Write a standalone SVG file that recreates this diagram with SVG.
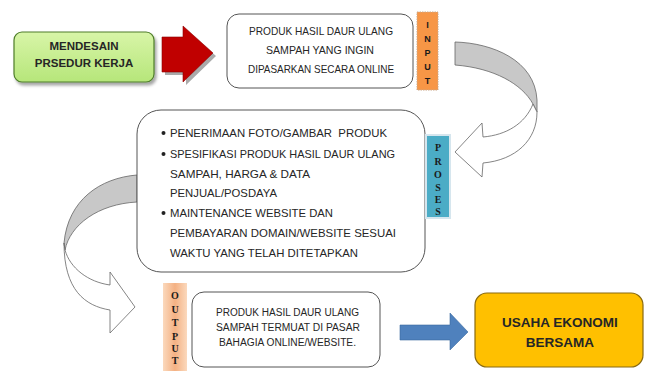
<svg xmlns="http://www.w3.org/2000/svg" width="649" height="371" viewBox="0 0 649 371">
<defs>
<style>
.t{font-family:"Liberation Sans",Arial,sans-serif;fill:#262626;}
.box{fill:#fff;stroke:#555;stroke-width:1;}
.lbl{font-family:"Liberation Serif","Times New Roman",serif;font-weight:bold;font-size:10px;fill:#1a1a1a;text-anchor:middle;}
.lbs{font-family:"Liberation Sans",Arial,sans-serif;font-weight:bold;font-size:9px;fill:#1a1a1a;text-anchor:middle;}
.curve{stroke:#666;stroke-width:0.8;}
</style>
<linearGradient id="gGreen" x1="0" y1="0" x2="0" y2="1">
<stop offset="0" stop-color="#d8f5a8"/><stop offset="1" stop-color="#b6e67a"/>
</linearGradient>
<linearGradient id="gPeach" x1="0" y1="0" x2="1" y2="0">
<stop offset="0" stop-color="#fbd9bd"/><stop offset="0.5" stop-color="#f4b183"/><stop offset="1" stop-color="#fbd9bd"/>
</linearGradient>
<filter id="sh" x="-10%" y="-10%" width="130%" height="140%">
<feDropShadow dx="2" dy="3" stdDeviation="1.5" flood-color="#000" flood-opacity="0.35"/>
</filter>
</defs>

<g id="connectors">
<g id="arrow-red">
<path d="M165,40 L186,40 L186,30 L216,56 L186,85 L186,75 L165,75 Z" fill="#aaa"/>
<path d="M162,37 L183,37 L183,26 L213,53 L183,82 L183,72 L162,72 Z" fill="#c00000" stroke="#8b0000" stroke-width="0.6"/>
</g>
<g id="arrow-curve-right">
<path class="curve" d="M455,42 C492,43 535,60 537,100 L537,112 L533,104 C522,84 494,68 455,65 Z" fill="#c8c8c8"/>
<path class="curve" d="M533,104 C525,124 506,135 483,137 L482,123 L455,152 L482,177 L483,163 C516,160 537,140 537,112 Z" fill="#fff"/>
</g>
<g id="arrow-curve-left">
<path class="curve" d="M137,175 C100,178 68,200 64,243 L65,250 C70,225 98,204 137,202 Z" fill="#c8c8c8"/>
<path class="curve" d="M65,250 C70,268 88,282 110,285 L110,272 L135,307 L110,333 L110,310 C85,306 64,290 64,243 Z" fill="#fff"/>
</g>
<g id="arrow-blue">
<path d="M400,325 L450,325 L450,313 L468,332 L450,350 L450,340 L400,340 Z" fill="#4f81bd" stroke="#3a6aa0" stroke-width="0.6"/>
</g>
</g>

<g id="node-mendesain">
<rect x="14" y="32" width="140" height="50" rx="8" fill="url(#gGreen)" stroke="#4e7d2a" stroke-width="1.2" filter="url(#sh)"/>
<text class="t" x="84" y="50" font-size="11.5" font-weight="bold" text-anchor="middle">MENDESAIN</text>
<text class="t" x="84" y="67" font-size="11.5" font-weight="bold" text-anchor="middle">PRSEDUR KERJA</text>
</g>

<g id="node-input">
<rect class="box" x="227" y="14" width="186" height="74" rx="12"/>
<text class="t" x="249" y="35" font-size="10.5" textLength="144" lengthAdjust="spacingAndGlyphs">PRODUK HASIL DAUR ULANG</text>
<text class="t" x="266" y="54" font-size="10.5" textLength="108" lengthAdjust="spacingAndGlyphs">SAMPAH YANG INGIN</text>
<text class="t" x="248" y="73" font-size="10.5" textLength="146" lengthAdjust="spacingAndGlyphs">DIPASARKAN SECARA ONLINE</text>
</g>

<g id="label-input">
<rect x="417" y="12" width="21" height="78" fill="#f79646" stroke="#c9a88a" stroke-width="1" stroke-dasharray="1.5,1"/>
<text class="lbs" x="427.5" y="28">I</text>
<text class="lbs" x="427.5" y="42">N</text>
<text class="lbs" x="427.5" y="56">P</text>
<text class="lbs" x="427.5" y="70">U</text>
<text class="lbs" x="427.5" y="84">T</text>
</g>

<g id="node-proses">
<rect class="box" x="137" y="110" width="288" height="162" rx="24"/>
<circle cx="163.5" cy="133" r="2" fill="#222"/>
<circle cx="163.5" cy="154" r="2" fill="#222"/>
<circle cx="163.5" cy="213" r="2" fill="#222"/>
<text class="t" x="170" y="137" font-size="11.5" xml:space="preserve" textLength="217" lengthAdjust="spacingAndGlyphs">PENERIMAAN FOTO/GAMBAR  PRODUK</text>
<text class="t" x="170" y="158" font-size="11.5" textLength="225" lengthAdjust="spacingAndGlyphs">SPESIFIKASI PRODUK HASIL DAUR ULANG</text>
<text class="t" x="170" y="178" font-size="11.5" textLength="140" lengthAdjust="spacingAndGlyphs">SAMPAH, HARGA &amp; DATA</text>
<text class="t" x="170" y="197" font-size="11.5" textLength="107" lengthAdjust="spacingAndGlyphs">PENJUAL/POSDAYA</text>
<text class="t" x="170" y="217" font-size="11.5" textLength="163" lengthAdjust="spacingAndGlyphs">MAINTENANCE WEBSITE DAN</text>
<text class="t" x="170" y="237" font-size="11.5" textLength="226" lengthAdjust="spacingAndGlyphs">PEMBAYARAN DOMAIN/WEBSITE SESUAI</text>
<text class="t" x="170" y="257" font-size="11.5" textLength="188" lengthAdjust="spacingAndGlyphs">WAKTU YANG TELAH DITETAPKAN</text>
</g>

<g id="label-proses">
<rect x="426" y="135" width="24" height="83" fill="#4bacc6" stroke="#d6e6ee" stroke-width="2"/>
<text class="lbl" x="438" y="151">P</text>
<text class="lbl" x="438" y="165">R</text>
<text class="lbl" x="438" y="178">O</text>
<text class="lbl" x="438" y="191">S</text>
<text class="lbl" x="438" y="203">E</text>
<text class="lbl" x="438" y="215">S</text>
</g>

<g id="label-output">
<rect x="163" y="283" width="24" height="90" fill="url(#gPeach)"/>
<text class="lbl" x="175" y="299">O</text>
<text class="lbl" x="175" y="313">U</text>
<text class="lbl" x="175" y="326">T</text>
<text class="lbl" x="175" y="340">P</text>
<text class="lbl" x="175" y="352">U</text>
<text class="lbl" x="175" y="364">T</text>
</g>

<g id="node-output">
<rect class="box" x="192" y="292" width="188" height="75" rx="12"/>
<text class="t" x="216" y="316" font-size="10" textLength="143" lengthAdjust="spacingAndGlyphs">PRODUK HASIL DAUR ULANG</text>
<text class="t" x="216" y="331" font-size="10" textLength="144" lengthAdjust="spacingAndGlyphs">SAMPAH TERMUAT DI PASAR</text>
<text class="t" x="219" y="346" font-size="10" textLength="137" lengthAdjust="spacingAndGlyphs">BAHAGIA ONLINE/WEBSITE.</text>
</g>

<g id="node-usaha">
<rect x="475" y="293" width="168" height="74" rx="12" fill="#ffc000" stroke="#8a6a10" stroke-width="1.2"/>
<text class="t" x="560" y="327" font-size="13.5" font-weight="bold" text-anchor="middle">USAHA EKONOMI</text>
<text class="t" x="560" y="347" font-size="13.5" font-weight="bold" text-anchor="middle">BERSAMA</text>
</g>
</svg>
